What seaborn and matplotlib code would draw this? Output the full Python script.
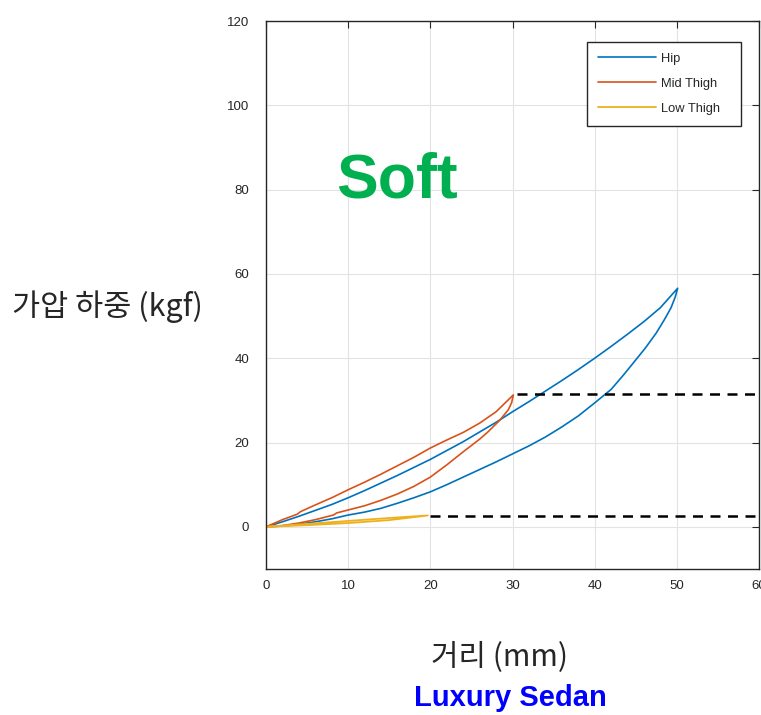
import matplotlib
matplotlib.use("Agg")
import matplotlib.pyplot as plt
import seaborn as sns
import pandas as pd

# Hip loop: upper branch 0 -> 50, lower branch back to 0
hip_x = [0, 2, 4, 6, 8, 10, 12, 14, 16, 18, 20, 22, 24, 26, 28, 30, 32, 34, 36, 38, 40, 42, 44, 46, 48, 50.1,
         49.8, 49.3, 48.5, 47.5, 46.2, 45, 43.5, 42, 40, 38, 36, 34, 32, 30, 28, 26, 24, 22, 20, 18, 16, 14, 12, 10, 8, 6, 4, 2, 0]
hip_y = [0, 1.2, 2.5, 3.9, 5.3, 6.9, 8.6, 10.4, 12.2, 14.1, 16.0, 18.1, 20.2, 22.5, 24.8, 27.3, 29.7, 32.2, 34.7, 37.3, 40.0, 42.8, 45.7, 48.7, 52.0, 56.6,
         54.5, 52.0, 49.2, 46.0, 42.5, 39.6, 36.0, 32.6, 29.4, 26.3, 23.7, 21.3, 19.2, 17.3, 15.4, 13.6, 11.8, 10.0, 8.3, 6.9, 5.6, 4.4, 3.5, 2.8, 1.9, 1.2, 0.6, 0.2, 0]

# Mid thigh loop
mid_x = [0, 2, 3.8, 4.2, 6, 8, 10, 12, 14, 16, 18, 20, 22, 24, 26, 28, 30.1,
         29.9, 29.5, 29, 28.4, 27, 26, 24, 22, 20, 18, 16, 14, 12, 10, 8.6, 8.2, 6, 4, 2, 0]
mid_y = [0, 1.7, 3.0, 3.6, 5.2, 6.9, 8.8, 10.6, 12.5, 14.5, 16.5, 18.7, 20.6, 22.4, 24.6, 27.3, 31.3,
         29.5, 27.8, 26.6, 25.2, 22.5, 20.8, 17.8, 14.7, 11.8, 9.6, 7.8, 6.3, 5.0, 4.0, 3.3, 2.8, 1.7, 0.9, 0.3, 0]

# Low thigh loop
low_x = [0, 5, 10, 15, 19.7, 15, 10, 5, 0]
low_y = [0, 0.7, 1.4, 2.1, 2.7, 1.6, 0.9, 0.4, 0]

series_names = ["Hip", "Mid Thigh", "Low Thigh"]
colors = ["#0072BD", "#D95319", "#EDB120"]
widths = [1.2, 1.2, 1.3]

# dashed reference levels
ref_levels = [31.5, 2.6]
ref_starts = [30.5, 20.0]

sns.set_style("whitegrid")
plt.rcParams["font.family"] = ["Liberation Sans", "Noto Sans CJK KR", "DejaVu Sans"]

fig = plt.figure(figsize=(7.61, 7.15), dpi=100)
ax = fig.add_axes([266 / 761, 1 - 569 / 715, 493 / 761, 548 / 715])

frames = [
    pd.DataFrame({"x": hip_x, "y": hip_y, "s": series_names[0]}),
    pd.DataFrame({"x": mid_x, "y": mid_y, "s": series_names[1]}),
    pd.DataFrame({"x": low_x, "y": low_y, "s": series_names[2]}),
]
for df, c, w in zip(frames, colors, widths):
    sns.lineplot(data=df, x="x", y="y", sort=False, estimator=None, color=c,
                 linewidth=w, label=df["s"].iloc[0], ax=ax)

for lvl, st in zip(ref_levels, ref_starts):
    ax.plot([st, 60], [lvl, lvl], color="black", linestyle=(0, (4, 3)), linewidth=1.8, clip_on=False)

ax.set_xlim(0, 60)
ax.set_ylim(-10, 120)
ax.set_xticks(range(0, 61, 10))
ax.set_yticks(range(0, 121, 20))
ax.grid(True, color="#e3e3e3", linewidth=0.8)
for sp in ax.spines.values():
    sp.set_visible(True)
    sp.set_color("#262626")
    sp.set_linewidth(1.0)
ax.tick_params(axis="both", direction="in", length=5, width=0.8, colors="#262626",
               labelsize=9.5, top=True, right=True)
ax.tick_params(axis="y", pad=12)
ax.tick_params(axis="x", pad=8)

ax.text(16, 82, "Soft", color="#00B050", fontsize=45, fontweight="bold",
        ha="center", va="center")

ax.set_ylabel("가압 하중 (kgf)", rotation=0, fontsize=22, family=["Noto Sans CJK KR"],
              ha="center", va="center")
ax.yaxis.set_label_coords(-0.3225, 0.478)
ax.set_xlabel("거리 (mm)", fontsize=21.5, family=["Noto Sans CJK KR"], ha="center", va="center")
ax.xaxis.set_label_coords(0.4746, -0.161)

fig.text(510 / 761, 1 - 698 / 715, "Luxury Sedan", color="#0000FF", fontsize=21,
         fontweight="bold", ha="center", va="center")

leg = ax.legend(loc="upper left", bbox_to_anchor=(587 / 761, 1 - 126 / 715, 154 / 761, 84 / 715),
                bbox_transform=fig.transFigure, mode="expand", fontsize=9.3, frameon=True,
                fancybox=False, handlelength=4.5, handletextpad=0.35, labelspacing=1.0,
                borderpad=0.85, borderaxespad=0)
leg.get_frame().set_edgecolor("#262626")
leg.get_frame().set_linewidth(1.0)
leg.get_frame().set_alpha(1)

fig.savefig("out.png", dpi=100)
